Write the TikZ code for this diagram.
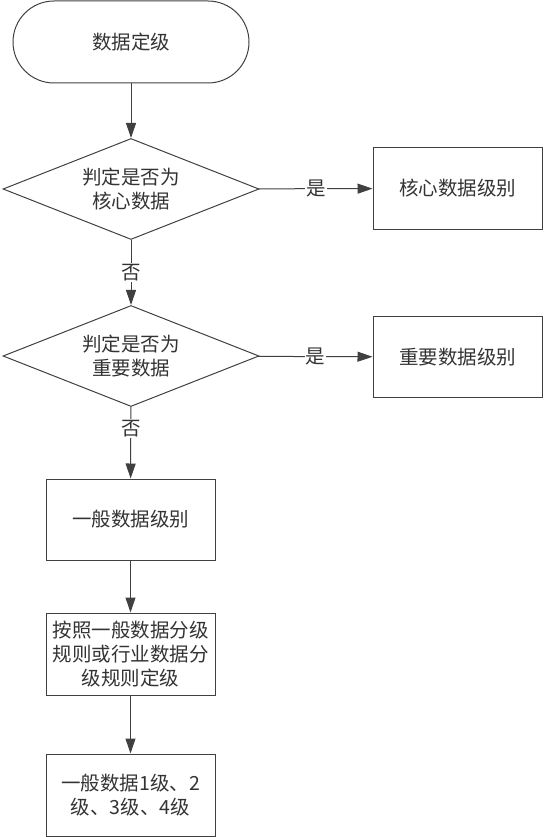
\documentclass[tikz,border=0pt]{standalone}
\usepackage{fontspec}
\setmainfont{Noto Sans CJK SC}
\usetikzlibrary{shapes.geometric,arrows.meta}
\begin{document}
\begin{tikzpicture}[x=1pt,y=-1pt,
  base/.style={draw=black!75, line width=1pt, text=black!80, font=\fontsize{19.5}{24}\selectfont, align=center, inner sep=0pt},
  termbox/.style={base, rectangle, rounded corners=41pt, minimum width=236pt, minimum height=82pt},
  decision/.style={base, diamond, aspect=2.5, minimum width=256pt, minimum height=101pt},
  procbox/.style={base, rectangle, minimum width=169pt, minimum height=81pt},
  arr/.style={draw=black!75, line width=1pt, -{Triangle[length=15pt,width=10pt]}},
  lbl/.style={fill=white, text=black!80, font=\fontsize{19.5}{22}\selectfont, inner sep=1pt}]
\useasboundingbox (0,0) rectangle (543,837);
\node[termbox] (start) at (131,42) {数据定级};
\node[decision] (d1) at (131,189) {判定是否为\\核心数据};
\node[procbox] (core) at (457.5,188.5) {核心数据级别};
\node[decision] (d2) at (131,356) {判定是否为\\重要数据};
\node[procbox] (imp) at (457.5,357) {重要数据级别};
\node[procbox] (gen) at (130.5,519.5) {一般数据级别};
\node[procbox, minimum height=82pt] (rule) at (130.5,654) {按照一般数据分级\\规则或行业数据分\\级规则定级};
\node[procbox, minimum height=82pt] (lev) at (130.5,795) {一般数据1级、2\\级、3级、4级};
\draw[arr] (start) -- (d1);
\draw[arr] (d1) -- node[lbl] {否} (d2);
\draw[arr] (d1) -- node[lbl] {是} (core);
\draw[arr] (d2) -- node[lbl] {是} (imp);
\draw[arr] (d2) -- node[lbl, pos=0.3] {否} (gen);
\draw[arr] (gen) -- (rule);
\draw[arr] (rule) -- (lev);
\end{tikzpicture}
\end{document}
